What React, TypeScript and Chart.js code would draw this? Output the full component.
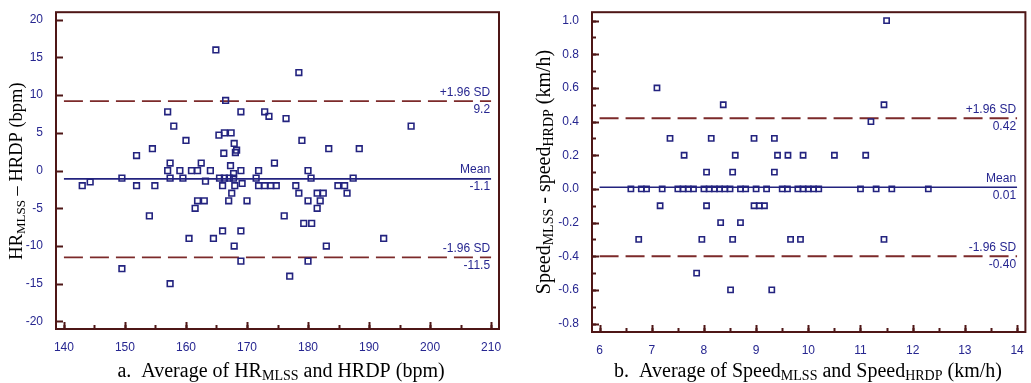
import React, { useEffect, useRef } from 'react';
import { Chart, registerables } from 'chart.js';
Chart.register(...registerables);

// ---------- Data: panel a (heart rate) ----------
const hrAverage = [
  143.0, 144.3, 149.5, 149.5, 151.9, 151.9, 154.5, 154.9, 154.0, 157.0,
  157.0, 157.4, 157.4, 157.4, 158.0, 159.0, 159.5, 160.0, 160.5, 160.9,
  161.5, 161.9, 161.9, 162.5, 163.0, 163.2, 164.0, 164.5, 164.9, 165.4,
  165.5, 166.0, 166.0, 166.2, 166.3, 166.5, 166.3, 167.0, 167.1, 167.3,
  167.8, 167.8, 167.5, 167.4, 167.9, 167.9, 168.1, 168.0, 168.3, 169.0,
  169.0, 169.0, 169.0, 169.2, 170.0, 171.5, 171.9, 171.9, 172.9, 172.9,
  173.6, 173.9, 174.5, 174.8, 176.1, 176.4, 177.0, 178.0, 178.5, 178.5,
  179.0, 179.3, 180.0, 180.0, 180.0, 180.5, 180.6, 181.5, 181.5, 182.0,
  182.5, 183.0, 183.4, 184.9, 186.0, 186.4, 187.4, 188.4, 192.4, 196.9,
];
const hrDifference = [
  -2, -1.5, -1, -13, 2, -2, 2.9, -2, -6, 7.8,
  0, 1, -1, -15, 5.9, 0, -1, 4, -9, 0,
  -5, 0, -4, 1, -4, -1.4, 0, -9, 16, 4.7,
  -1, -8, -2, 2.3, -1, 9.3, 5, -4, -1, 0.65,
  -1, -0.4, -3, 5, 3.6, -10, 2.4, -2, 2.7, 0,
  7.8, -8, -12, -1.7, -4, -1, 0, -2, 7.8, -2,
  7.2, -2, 1, -2, -6, 6.9, -14, -2, -3, 13,
  4, -7, 0, -4, -12, -1, -7, -3, -5, -4,
  -3, -10, 2.9, -2, -2, -3, -1, 2.9, -9, 5.9,
];
const hrLimits = [9.2, -1.1, -11.5]; // +1.96 SD, mean, -1.96 SD
const hrLimitNames = ['+1.96 SD', 'Mean', '-1.96 SD'];
const hrLimitTexts = ['9.2', '-1.1', '-11.5'];
const hrLineSpan = [140, 210];

// ---------- Data: panel b (speed) ----------
const speedAverage = [
  11.5, 7.1, 8.37, 11.45, 11.2, 7.35, 8.14, 8.96, 9.35, 7.62,
  8.6, 9.41, 9.61, 9.9, 10.5, 11.1, 8.05, 8.55, 9.35,
  6.6, 6.8, 6.9, 7.2, 7.5, 7.6, 7.7, 7.8, 8.0, 8.1,
  8.2, 8.3, 8.4, 8.5, 8.7, 8.8, 9.0, 9.2, 9.5, 9.6,
  9.8, 9.9, 10.0, 10.1, 10.2, 11.0, 11.3, 11.6, 12.3,
  7.16, 8.05, 8.96, 9.06, 9.16, 8.32, 8.7, 6.75, 7.96, 8.55,
  9.66, 9.85, 11.45, 7.86, 8.51, 9.3,
];
const speedDifference = [
  1.0, 0.6, 0.5, 0.5, 0.4, 0.3, 0.3, 0.3, 0.3, 0.2,
  0.2, 0.2, 0.2, 0.2, 0.2, 0.2, 0.1, 0.1, 0.1,
  0, 0, 0, 0, 0, 0, 0, 0, 0, 0,
  0, 0, 0, 0, 0, 0, 0, 0, 0, 0,
  0, 0, 0, 0, 0, 0, 0, 0, 0,
  -0.1, -0.1, -0.1, -0.1, -0.1, -0.2, -0.2, -0.3, -0.3, -0.3,
  -0.3, -0.3, -0.3, -0.5, -0.6, -0.6,
];
const speedLimits = [0.42, 0.01, -0.4];
const speedLimitNames = ['+1.96 SD', 'Mean', '-1.96 SD'];
const speedLimitTexts = ['0.42', '0.01', '-0.40'];
const speedLineSpan = [6, 14];

// ---------- Styles ----------
const NAVY = '#23237f';
const TICK_TEXT = '#262690';
const MAROON = '#4e1616';
const DASH = '#7c2a2a';
const SANS = "'Liberation Sans', Arial, sans-serif";
const SERIF = "'Liberation Serif', 'Times New Roman', serif";

type Seg = { t: string; sub?: boolean };

function drawRich(ctx: CanvasRenderingContext2D, segs: Seg[], cx: number, cy: number, size: number) {
  const subSize = Math.round(size * 0.68);
  const widths = segs.map((s) => {
    ctx.font = `${s.sub ? subSize : size}px ${SERIF}`;
    return ctx.measureText(s.t).width;
  });
  const total = widths.reduce((a, b) => a + b, 0);
  let x = cx - total / 2;
  const base = cy + size * 0.33;
  ctx.textAlign = 'left';
  ctx.textBaseline = 'alphabetic';
  ctx.fillStyle = '#000';
  segs.forEach((s, i) => {
    ctx.font = `${s.sub ? subSize : size}px ${SERIF}`;
    ctx.fillText(s.t, x, s.sub ? base + size * 0.16 : base);
    x += widths[i];
  });
}

type Deco = {
  xMajor: number; xMinor: number; yMajor: number; yMinor: number;
  yTitle: Seg[]; yTitlePos: [number, number]; yTitleSize: number;
  caption: Seg[]; captionPos: [number, number]; captionSize: number;
  limits: number[]; names: string[]; texts: string[]; span: number[];
};

function tickValues(min: number, max: number, step: number) {
  const out: number[] = [];
  const start = Math.ceil(min / step - 1e-9);
  for (let k = start; k * step <= max + 1e-9; k++) out.push(k * step);
  return out;
}

const decoPlugin = {
  id: 'deco',
  afterDatasetsDraw(chart: any, _args: any, opts: Deco) {
    const ctx: CanvasRenderingContext2D = chart.ctx;
    const { left, right, top, bottom } = chart.chartArea;
    const xs = chart.scales.x;
    const ys = chart.scales.y;
    ctx.save();
    // limit labels
    ctx.fillStyle = TICK_TEXT;
    ctx.font = `12px ${SANS}`;
    ctx.textAlign = 'right';
    const rx = xs.getPixelForValue(opts.span[1]) - 1;
    opts.limits.forEach((v, i) => {
      const py = ys.getPixelForValue(v);
      ctx.textBaseline = 'bottom';
      ctx.fillText(opts.names[i], rx, py - 3);
      ctx.textBaseline = 'top';
      ctx.fillText(opts.texts[i], rx, py + 2);
    });
    // frame
    ctx.strokeStyle = MAROON;
    ctx.lineWidth = 2;
    ctx.strokeRect(left, top, right - left, bottom - top);
    // inward ticks
    const drawX = (step: number, len: number) => {
      tickValues(xs.min, xs.max, step).forEach((v) => {
        const px = Math.round(xs.getPixelForValue(v)) + 0.5;
        ctx.beginPath();
        ctx.moveTo(px, bottom);
        ctx.lineTo(px, bottom - len);
        ctx.stroke();
      });
    };
    const drawY = (step: number, len: number) => {
      tickValues(ys.min, ys.max, step).forEach((v) => {
        const py = Math.round(ys.getPixelForValue(v)) + 0.5;
        ctx.beginPath();
        ctx.moveTo(left, py);
        ctx.lineTo(left + len, py);
        ctx.stroke();
      });
    };
    drawX(opts.xMajor, 7);
    if (opts.xMinor) drawX(opts.xMinor, 4);
    drawY(opts.yMajor, 7);
    if (opts.yMinor) drawY(opts.yMinor, 4);
    // titles
    ctx.save();
    ctx.translate(opts.yTitlePos[0], opts.yTitlePos[1]);
    ctx.rotate(-Math.PI / 2);
    drawRich(ctx, opts.yTitle, 0, 0, opts.yTitleSize);
    ctx.restore();
    drawRich(ctx, opts.caption, opts.captionPos[0], opts.captionPos[1], opts.captionSize);
    ctx.restore();
  },
};

type PanelProps = {
  xs: number[]; ys: number[]; xMin: number; xMax: number; yMin: number; yMax: number;
  xStep: number; yStep: number; yDecimals: number; yAxisWidth: number; xAxisHeight: number;
  padRight: number; pointRadius: number; deco: Deco; width: number; left: number;
};

function Panel(p: PanelProps) {
  const ref = useRef<HTMLCanvasElement | null>(null);
  useEffect(() => {
    if (!ref.current) return;
    const points = p.xs.map((x, i) => ({ x, y: p.ys[i] }));
    const lineDs = p.deco.limits.map((v, i) => ({
      type: 'line' as const,
      data: [{ x: p.deco.span[0], y: v }, { x: p.deco.span[1], y: v }],
      borderColor: i === 1 ? NAVY : DASH,
      borderWidth: i === 1 ? 1.6 : 1.8,
      borderDash: i === 1 ? [] : [19, 7],
      pointRadius: 0,
      showLine: true,
      fill: false,
    }));
    const chart = new Chart(ref.current, {
      type: 'scatter',
      data: {
        datasets: [
          {
            data: points,
            pointStyle: 'rect',
            pointRadius: p.pointRadius,
            borderColor: NAVY,
            backgroundColor: 'rgba(255,255,255,0)',
            borderWidth: 1.6,
          } as any,
          ...lineDs,
        ],
      },
      options: {
        animation: false,
        responsive: false,
        devicePixelRatio: 1,
        layout: { padding: { top: 9, right: p.padRight, left: 0, bottom: 0 } },
        plugins: { legend: { display: false }, tooltip: { enabled: false }, deco: p.deco } as any,
        scales: {
          x: {
            type: 'linear',
            min: p.xMin,
            max: p.xMax,
            grid: { display: false },
            border: { display: false },
            ticks: {
              stepSize: p.xStep,
              includeBounds: false,
              padding: 3,
              color: TICK_TEXT,
              font: { family: SANS, size: 12 },
              maxRotation: 0,
              autoSkip: false,
              callback: (v: any) => String(Math.round(Number(v))),
            },
            afterFit: (s: any) => { s.height = p.xAxisHeight; },
          },
          y: {
            type: 'linear',
            min: p.yMin,
            max: p.yMax,
            grid: { display: false },
            border: { display: false },
            ticks: {
              stepSize: p.yStep,
              includeBounds: false,
              padding: 5,
              color: TICK_TEXT,
              font: { family: SANS, size: 12 },
              autoSkip: false,
              callback: (v: any) => {
                const n = Math.abs(Number(v)) < 1e-9 ? 0 : Number(v);
                return n.toFixed(p.yDecimals);
              },
            },
            afterFit: (s: any) => { s.width = p.yAxisWidth; },
          },
        },
      } as any,
      plugins: [decoPlugin],
    });
    return () => chart.destroy();
  }, []);
  return (
    <canvas
      ref={ref}
      width={p.width}
      height={383}
      style={{ position: 'absolute', left: p.left, top: 0, width: p.width, height: 383 }}
    />
  );
}

export default function App() {
  const decoA: Deco = {
    xMajor: 10, xMinor: 5, yMajor: 5, yMinor: 0,
    yTitle: [{ t: 'HR' }, { t: 'MLSS', sub: true }, { t: ' – HRDP (bpm)' }],
    yTitlePos: [16, 171], yTitleSize: 18.5,
    caption: [{ t: 'a.  Average of HR' }, { t: 'MLSS', sub: true }, { t: ' and HRDP (bpm)' }],
    captionPos: [281, 370], captionSize: 20,
    limits: hrLimits, names: hrLimitNames, texts: hrLimitTexts, span: hrLineSpan,
  };
  const decoB: Deco = {
    xMajor: 1, xMinor: 0.5, yMajor: 0.2, yMinor: 0.1,
    yTitle: [{ t: 'Speed' }, { t: 'MLSS', sub: true }, { t: ' - speed' }, { t: 'HRDP', sub: true }, { t: ' (km/h)' }],
    yTitlePos: [28, 172], yTitleSize: 20,
    caption: [{ t: 'b.  Average of Speed' }, { t: 'MLSS', sub: true }, { t: ' and Speed' }, { t: 'HRDP', sub: true }, { t: ' (km/h)' }],
    captionPos: [293, 370], captionSize: 20,
    limits: speedLimits, names: speedLimitNames, texts: speedLimitTexts, span: speedLineSpan,
  };
  return (
    <div style={{ position: 'absolute', left: 0, top: 0, width: 1031, height: 383, background: '#fff' }}>
      <Panel
        xs={hrAverage} ys={hrDifference}
        xMin={138.7} xMax={211.3} yMin={-21} yMax={21} xStep={10} yStep={5} yDecimals={0}
        yAxisWidth={56} xAxisHeight={54} padRight={16} pointRadius={4}
        deco={decoA} width={515} left={0}
      />
      <Panel
        xs={speedAverage} ys={speedDifference}
        xMin={5.855} xMax={14.16} yMin={-0.85} yMax={1.05} xStep={1} yStep={0.2} yDecimals={1}
        yAxisWidth={77} xAxisHeight={51} padRight={4} pointRadius={3.7}
        deco={decoB} width={516} left={515}
      />
    </div>
  );
}
